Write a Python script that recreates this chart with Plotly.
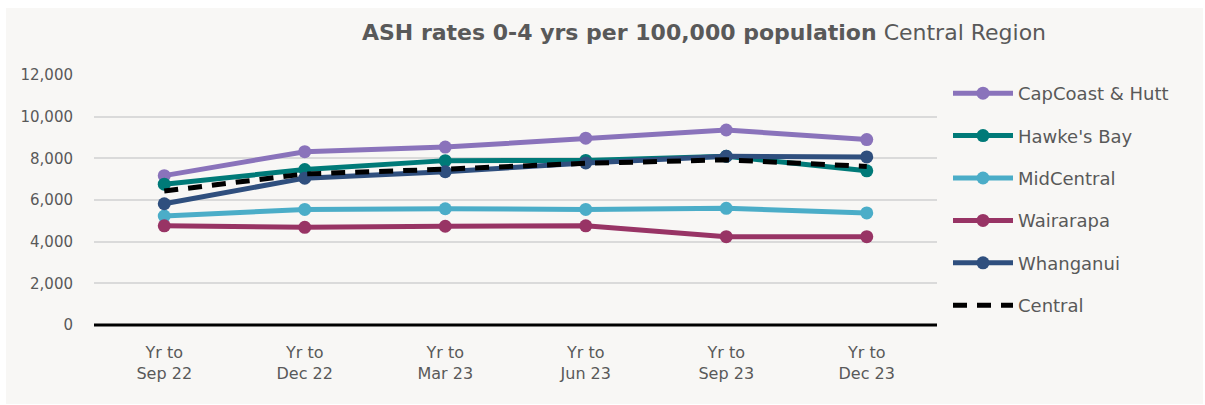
import plotly.graph_objects as go

# Quarter labels (year-to periods)
periods = ["Yr to<br>Sep 22", "Yr to<br>Dec 22", "Yr to<br>Mar 23",
           "Yr to<br>Jun 23", "Yr to<br>Sep 23", "Yr to<br>Dec 23"]

# ASH rates, 0-4 yrs, per 100,000 population
capcoast_hutt = [7170, 8320, 8540, 8970, 9360, 8900]
hawkes_bay = [6760, 7460, 7890, 7900, 8100, 7400]
midcentral = [5230, 5550, 5580, 5550, 5600, 5380]
wairarapa = [4760, 4690, 4740, 4760, 4240, 4240]
whanganui = [5820, 7050, 7360, 7780, 8100, 8070]
central = [6430, 7250, 7480, 7760, 7930, 7610]

y_ticks = [0, 2000, 4000, 6000, 8000, 10000, 12000]

series = [
    ("CapCoast & Hutt", capcoast_hutt, "#8A73BB"),
    ("Hawke's Bay", hawkes_bay, "#007A78"),
    ("MidCentral", midcentral, "#4BADC8"),
    ("Wairarapa", wairarapa, "#983465"),
    ("Whanganui", whanganui, "#2F4F7E"),
]

FONT = "DejaVu Sans"
TEXT = "#595959"

W, H = 1205, 405
L, R, T, B = 94, 268, 75, 80
PW, PH = W - L - R, H - T - B

fig = go.Figure()
for i, (name, vals, col) in enumerate(series):
    fig.add_trace(go.Scatter(
        x=periods, y=vals, name=name, mode="lines+markers",
        line=dict(color=col, width=5),
        marker=dict(color=col, size=13),
        legendgroup=f"g{i}",
    ))
fig.add_trace(go.Scatter(
    x=periods, y=central, name="Central", mode="lines",
    line=dict(color="#000000", width=5, dash="14px,10px"),
    legendgroup="g5",
))

fig.update_layout(
    width=W, height=H,
    margin=dict(l=L, r=R, t=T, b=B),
    paper_bgcolor="#FFFFFF",
    plot_bgcolor="#F8F7F5",
    font=dict(family=FONT, color=TEXT),
    title=dict(
        text="<b>ASH rates 0-4 yrs per 100,000 population</b> Central Region",
        font=dict(family=FONT, size=22, color="#595959"),
        x=(704 - L) / PW, xref="paper", xanchor="center",
        y=1 - 32 / H, yref="container", yanchor="middle",
    ),
    xaxis=dict(
        showgrid=False, zeroline=False, showline=False,
        tickfont=dict(size=16, color=TEXT),
        ticklabelstandoff=16,
        range=[-0.5, 5.5],
    ),
    yaxis=dict(
        range=[0, 12000], tickvals=y_ticks,
        tickformat=",d",
        showgrid=True, gridcolor="#DADADA", gridwidth=2,
        zeroline=False, showline=False,
        tickfont=dict(size=15, color=TEXT),
        ticklabelstandoff=20,
    ),
    legend=dict(
        x=(948 - L) / PW, xanchor="left", xref="paper",
        y=1 - (75 - T) / PH, yanchor="top", yref="paper",
        font=dict(size=18, color=TEXT),
        itemwidth=60,
        traceorder="grouped",
        tracegroupgap=16,
        maxheight=400,
        bgcolor="rgba(0,0,0,0)",
    ),
    shapes=[
        # panel background
        dict(type="rect", xref="paper", yref="paper",
             x0=(6 - L) / PW, x1=(1203 - L) / PW,
             y0=(T + PH - 404) / PH, y1=(T + PH - 8) / PH,
             fillcolor="#F8F7F5", line=dict(width=0), layer="below"),
        # baseline at zero
        dict(type="line", xref="paper", yref="paper",
             x0=0, x1=1, y0=0, y1=0,
             line=dict(color="#000000", width=3)),
    ],
)

fig.write_html("out.html")
